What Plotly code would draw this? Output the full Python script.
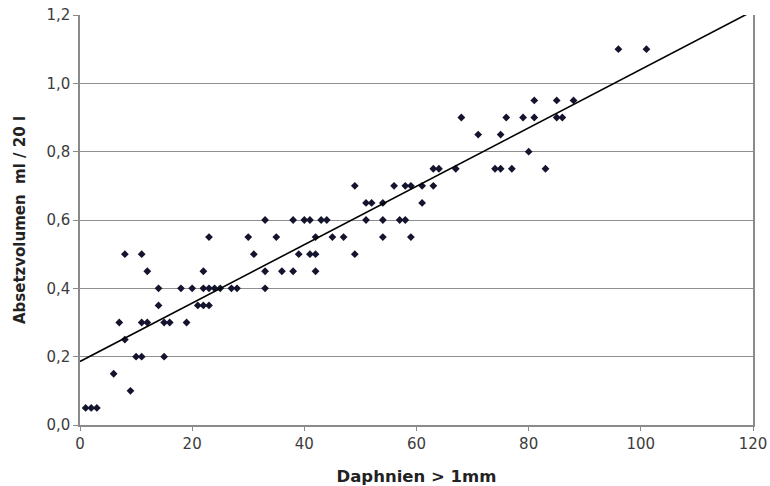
import numpy as np
import plotly.graph_objects as go

# Daphnien > 1mm (x) and Absetzvolumen ml / 20 l (y)
daphnien = [1, 2, 3, 6, 7, 8, 8, 9,
            10, 11, 11, 11, 12, 12,
            14, 14, 15, 15, 16,
            18, 19, 20,
            21, 22, 23,
            22, 23, 24, 25,
            22, 23,
            27, 28,
            30, 31,
            33, 33, 33,
            35, 36,
            38, 38, 39,
            40, 41, 41, 42, 42, 42,
            43, 44,
            45, 47,
            49, 49,
            51, 51, 52,
            54, 54, 54,
            56, 57, 58, 58, 59, 59,
            61, 61, 63, 63, 64,
            67, 68, 71,
            74, 75, 75, 76, 77, 79, 80,
            81, 81, 83, 85, 85, 86, 88,
            96, 101]
absetzvolumen = [0.05, 0.05, 0.05, 0.15, 0.30, 0.25, 0.50, 0.10,
                 0.20, 0.20, 0.30, 0.50, 0.30, 0.45,
                 0.35, 0.40, 0.20, 0.30, 0.30,
                 0.40, 0.30, 0.40,
                 0.35, 0.35, 0.35,
                 0.40, 0.40, 0.40, 0.40,
                 0.45, 0.55,
                 0.40, 0.40,
                 0.55, 0.50,
                 0.40, 0.45, 0.60,
                 0.55, 0.45,
                 0.45, 0.60, 0.50,
                 0.60, 0.60, 0.50, 0.50, 0.45, 0.55,
                 0.60, 0.60,
                 0.55, 0.55,
                 0.50, 0.70,
                 0.60, 0.65, 0.65,
                 0.55, 0.60, 0.65,
                 0.70, 0.60, 0.60, 0.70, 0.70, 0.55,
                 0.65, 0.70, 0.70, 0.75, 0.75,
                 0.75, 0.90, 0.85,
                 0.75, 0.75, 0.85, 0.90, 0.75, 0.90, 0.80,
                 0.90, 0.95, 0.75, 0.90, 0.95, 0.90, 0.95,
                 1.10, 1.10]

x_ticks = [0, 20, 40, 60, 80, 100, 120]
y_ticks = [0.0, 0.2, 0.4, 0.6, 0.8, 1.0, 1.2]

# linear trend line fitted to the data
slope, intercept = np.polyfit(daphnien, absetzvolumen, 1)
trend_x = [x_ticks[0], x_ticks[-1]]
trend_y = [intercept + slope * v for v in trend_x]

fig = go.Figure()
fig.add_trace(go.Scatter(
    x=daphnien, y=absetzvolumen, mode="markers",
    marker=dict(symbol="diamond", size=6, color="#14142e"),
    showlegend=False,
))
fig.add_trace(go.Scatter(
    x=trend_x, y=trend_y, mode="lines",
    line=dict(color="black", width=1.6),
    showlegend=False,
))

tick_font = dict(family="DejaVu Sans, sans-serif", size=15, color="#3c3c3c")

fig.update_layout(
    width=770, height=486,
    margin=dict(l=80, r=17, t=15, b=61),
    paper_bgcolor="white", plot_bgcolor="white",
    separators=",.",
    xaxis=dict(
        range=[x_ticks[0], x_ticks[-1]], tickvals=x_ticks, automargin=False,
        showgrid=False, zeroline=False,
        showline=True, linecolor="#8a8a8a", linewidth=1.5,
        ticks="outside", ticklen=4, tickcolor="#8a8a8a",
        tickfont=tick_font,
        title=dict(text="<b>Daphnien > 1mm</b>",
                   font=dict(family="DejaVu Sans, sans-serif", size=16.5, color="#222222"),
                   standoff=19),
    ),
    yaxis=dict(
        range=[y_ticks[0], y_ticks[-1]], tickvals=y_ticks, tickformat=".1f", automargin=False,
        showgrid=True, gridcolor="#8f8f8f", gridwidth=1, zeroline=False,
        showline=True, linecolor="#8a8a8a", linewidth=1.5, mirror=True,
        ticks="outside", ticklen=5, tickcolor="#8a8a8a",
        tickfont=tick_font,
        title=dict(text="<b>Absetzvolumen  ml / 20 l</b>",
                   font=dict(family="DejaVu Sans, sans-serif", size=15, color="#222222"),
                   standoff=17),
    ),
)

# remove the page's default body margin so the 770x486 figure fills the window exactly
fig.write_html("out.html",
               config={"displayModeBar": False},
               post_script="document.body.style.margin='0';document.body.style.overflow='hidden';")
